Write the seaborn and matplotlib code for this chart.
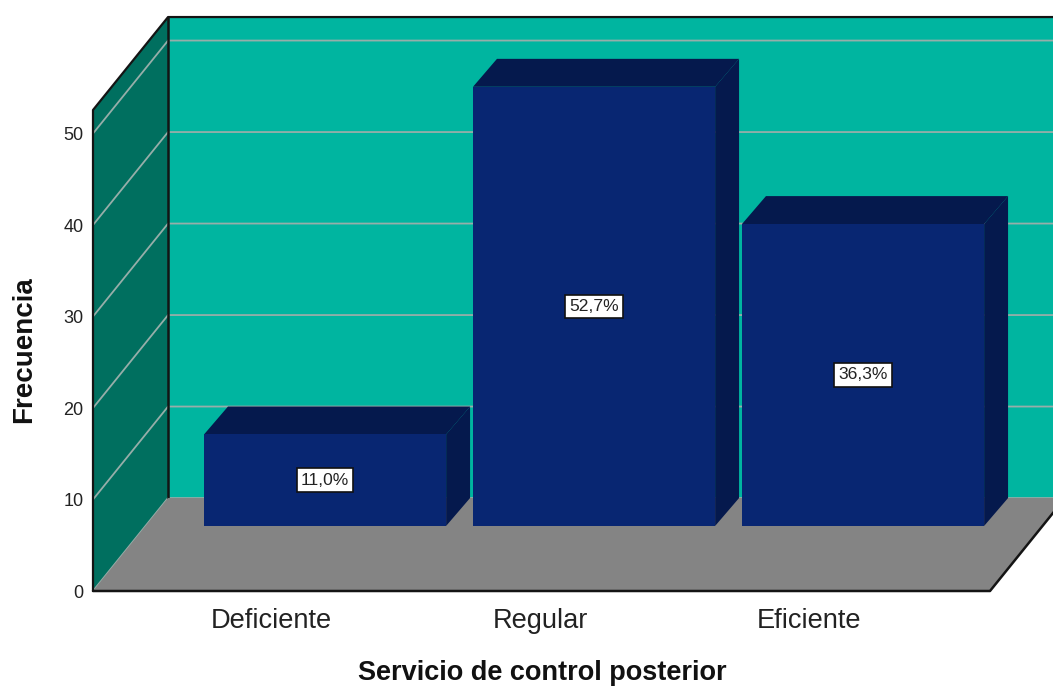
import pandas as pd
import seaborn as sns
import matplotlib.pyplot as plt
from matplotlib.patches import Polygon
from matplotlib.transforms import Affine2D

categories = ['Deficiente', 'Regular', 'Eficiente']
frequencies = [10, 48, 33]
percent_labels = ['11,0%', '52,7%', '36,3%']
y_ticks = [0, 10, 20, 30, 40, 50]

# colours of the 3d box
back_wall = '#00B5A0'
side_wall = '#006F5F'
floor_color = '#848484'
grid_color = '#96AEA9'
bar_front = '#082672'
bar_shade = '#05194D'
edge = '#141414'

# oblique projection, in data units
depth_x = 0.279   # a full depth moves this many categories to the right
depth_y = 10.16   # ... and this many counts up

# where the bars sit inside the box
front_x = 0.201
front_y = 7.11
rest_x = 0.089
rest_y = depth_y - front_y

W, H = 1053, 686

sns.set_style('white')
plt.rcParams['font.family'] = ['Liberation Sans', 'DejaVu Sans']

fig = plt.figure(figsize=(W / 100, H / 100), dpi=100)
# axes is the front plane of the box
ax = fig.add_axes([93 / W, (H - 591) / H, (990 - 93) / W, (591 - 110) / H])

df = pd.DataFrame({'cat': categories, 'freq': frequencies})
sns.barplot(data=df, x='cat', y='freq', color=bar_front, saturation=1, width=0.9,
            linewidth=0, zorder=4, clip_on=False, ax=ax)

x0, x1 = (93 - 271) / 269, (990 - 271) / 269
y1 = 52.57
ax.set_xlim(x0, x1)
ax.set_ylim(0, y1)


def add_poly(points, color, z):
    ax.add_patch(Polygon(points, closed=True, fc=color, ec='none', lw=0, zorder=z,
                         clip_on=False))


# walls and floor
add_poly([(x0 + depth_x, depth_y), (x1 + depth_x, depth_y),
          (x1 + depth_x, y1 + depth_y), (x0 + depth_x, y1 + depth_y)], back_wall, 0)
add_poly([(x0, 0), (x0 + depth_x, depth_y), (x0 + depth_x, y1 + depth_y), (x0, y1)], side_wall, 0)
add_poly([(x0, 0), (x1, 0), (x1 + depth_x, depth_y), (x0 + depth_x, depth_y)], floor_color, 2)

# gridlines run along the side wall and then across the back wall
for v in y_ticks:
    ax.plot([x0, x0 + depth_x, x1 + depth_x], [v, v + depth_y, v + depth_y],
            color=grid_color, lw=1.3, zorder=1, clip_on=False, solid_joinstyle='miter')

# box outline
ax.plot([x0, x0, x0 + depth_x, x1 + depth_x], [0, y1, y1 + depth_y, y1 + depth_y],
        color=edge, lw=1.6, zorder=3, clip_on=False)
ax.plot([x0 + depth_x, x0 + depth_x], [depth_y, y1 + depth_y], color=edge, lw=1.8, zorder=1.5, clip_on=False)
ax.plot([x0, x1, x1 + depth_x], [0, 0, depth_y], color=edge, lw=1.8, zorder=3, clip_on=False)

# move the seaborn bars back into the box and give them a top and a side
for bar, label in zip(ax.patches[:len(categories)], percent_labels):
    left, width, height = bar.get_x(), bar.get_width(), bar.get_height()
    bar.set_transform(Affine2D().translate(front_x, 0) + ax.transData)
    bar.set_y(front_y)
    l, r = left + front_x, left + width + front_x
    b, t = front_y, front_y + height
    add_poly([(l, t), (r, t), (r + rest_x, t + rest_y), (l + rest_x, t + rest_y)], bar_shade, 3.5)
    add_poly([(r, b), (r, t), (r + rest_x, t + rest_y), (r + rest_x, b + rest_y)], bar_shade, 3.5)
    ax.text((l + r) / 2, (b + t) / 2, label, ha='center', va='center', fontsize=12.6,
            color='#222222', zorder=6,
            bbox=dict(boxstyle='square,pad=0.24', fc='white', ec='#111111', lw=1.2))

for s in ax.spines.values():
    s.set_visible(False)
ax.set_yticks(y_ticks)
ax.set_xticks(range(len(categories)))
ax.set_xticklabels(categories)
ax.tick_params(axis='y', length=0, pad=7, labelsize=13, labelcolor='#222222')
ax.tick_params(axis='x', length=0, pad=12, labelsize=19.6, labelcolor='#222222')
ax.set_xlabel('')
ax.set_ylabel('')
fig.text(542 / W, 1 - 673 / H, 'Servicio de control posterior', ha='center', va='center',
         fontsize=19.5, fontweight='bold', color='#111111')
fig.text(24 / W, 1 - 350 / H, 'Frecuencia', ha='center', va='center', rotation=90,
         fontsize=20, fontweight='bold', color='#111111')

fig.savefig('out.png', dpi=100, facecolor='white')
